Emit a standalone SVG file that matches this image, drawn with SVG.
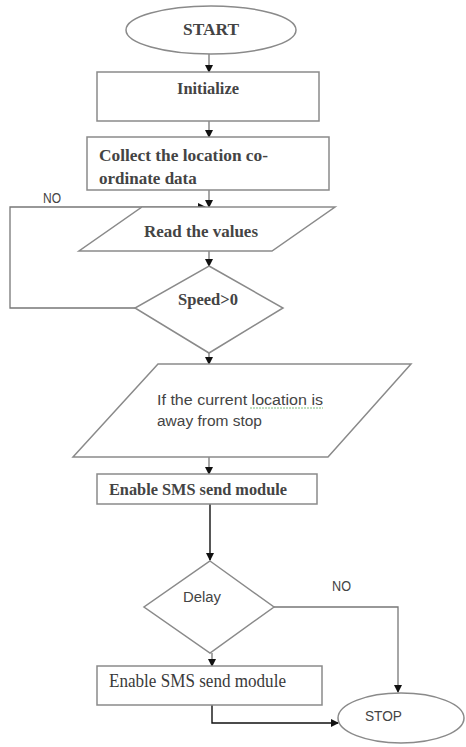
<svg xmlns="http://www.w3.org/2000/svg" width="466" height="747" viewBox="0 0 466 747">
<style>
.s{fill:#fff;stroke:#8a8a8a;stroke-width:1.5}
.c{fill:none;stroke:#777;stroke-width:1.3}
.k{fill:none;stroke:#111;stroke-width:1.4}
.t{font-family:"Liberation Serif",serif;font-size:18px;fill:#3a3a3a}
.b{font-family:"Liberation Serif",serif;font-size:17px;fill:#444;font-weight:bold}
.n{font-family:"Liberation Sans",sans-serif;font-size:14px;fill:#444}
</style>
<defs>
<marker id="a" markerWidth="8" markerHeight="8" refX="7" refY="4" orient="auto" markerUnits="userSpaceOnUse">
<path d="M0,0 L8,4 L0,8 z" fill="#111"/>
</marker>
</defs>
<g id="connectors">
<line class="c" x1="209" y1="54" x2="209" y2="72" marker-end="url(#a)"/>
<line class="c" x1="209" y1="121" x2="209" y2="137" marker-end="url(#a)"/>
<line class="c" x1="209" y1="190" x2="209" y2="207" marker-end="url(#a)"/>
<polyline class="c" points="135,308 10,308 10,207 205,207" marker-end="url(#a)"/>
<line class="c" x1="209" y1="251" x2="209" y2="266" marker-end="url(#a)"/>
<line class="c" x1="209" y1="353" x2="209" y2="364" marker-end="url(#a)"/>
<line class="c" x1="209" y1="457" x2="209" y2="474" marker-end="url(#a)"/>
<line class="k" x1="210" y1="504" x2="210" y2="560" marker-end="url(#a)"/>
<line class="k" x1="273" y1="503" x2="294" y2="503"/>
<polyline class="c" points="274,607 398,607 398,692" marker-end="url(#a)"/>
<line class="c" x1="212" y1="653" x2="212" y2="666" marker-end="url(#a)"/>
<polyline class="k" points="212,705 212,723 338,723" marker-end="url(#a)"/>
<text class="n" x="43" y="203" font-size="11" textLength="18" lengthAdjust="spacingAndGlyphs">NO</text>
<text class="n" x="332" y="591" font-size="12" textLength="19" lengthAdjust="spacingAndGlyphs">NO</text>
</g>
<g id="start">
<ellipse class="s" cx="211" cy="30" rx="85" ry="24"/>
<text class="b" x="183" y="35" font-size="18" textLength="56" lengthAdjust="spacingAndGlyphs">START</text>
</g>
<g id="init">
<rect class="s" x="97" y="72" width="222" height="49"/>
<text class="b" x="177" y="94" textLength="62" lengthAdjust="spacingAndGlyphs">Initialize</text>
</g>
<g id="collect">
<rect class="s" x="87" y="137" width="242" height="53"/>
<text class="b" x="99" y="161" textLength="169" lengthAdjust="spacingAndGlyphs">Collect the location co-</text>
<text class="b" x="99" y="184">ordinate data</text>
</g>
<g id="read">
<polygon class="s" points="142,207 335,207 272,251 79,251"/>
<text class="b" x="144" y="237" font-size="18" textLength="114" lengthAdjust="spacingAndGlyphs">Read the values</text>
</g>
<g id="speed">
<polygon class="s" points="209,266 283,308 209,353 135,308"/>
<text class="b" x="178" y="305" textLength="60" lengthAdjust="spacingAndGlyphs">Speed&gt;0</text>
</g>
<g id="ifloc">
<polygon class="s" points="158,364 411,364 328,457 73,457"/>
<text class="n" x="157" y="405" font-size="15" textLength="166" lengthAdjust="spacingAndGlyphs">If the current location  is</text>
<line x1="250" y1="408" x2="323" y2="408" stroke="#7fbf7f" stroke-width="1" stroke-dasharray="2,1"/>
<text class="n" x="157" y="426" font-size="15" textLength="105" lengthAdjust="spacingAndGlyphs">away from stop</text>
</g>
<g id="sms1">
<rect class="s" x="97" y="474" width="220" height="30"/>
<text class="b" x="109" y="495" textLength="178" lengthAdjust="spacingAndGlyphs">Enable SMS send module</text>
</g>
<g id="delay">
<polygon class="s" points="210,561 274,607 210,653 144,607"/>
<text class="n" x="183" y="602" textLength="38" lengthAdjust="spacingAndGlyphs">Delay</text>
</g>
<g id="sms2">
<rect class="s" x="97" y="666" width="225" height="39"/>
<text class="t" x="109" y="687" textLength="177" lengthAdjust="spacingAndGlyphs">Enable SMS send module</text>
</g>
<g id="stop">
<ellipse class="s" cx="401" cy="718" rx="63" ry="25"/>
<text class="n" x="365" y="721" textLength="37" lengthAdjust="spacingAndGlyphs">STOP</text>
</g>
</svg>
